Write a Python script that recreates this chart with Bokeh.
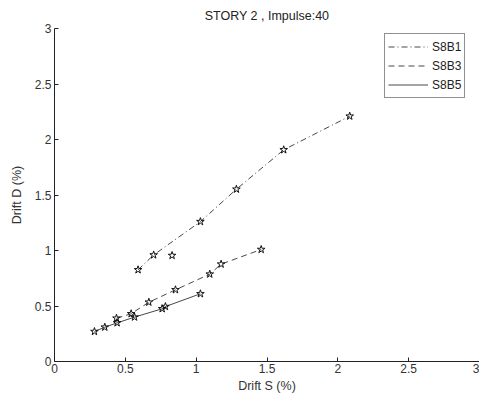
from bokeh.plotting import figure
from bokeh.models import Range1d, FixedTicker, Legend, LegendItem
from bokeh.embed import file_html
from bokeh.resources import INLINE

# data
s8b1_x = [0.59, 0.70, 0.83, 1.03, 1.284, 1.618, 2.084]
s8b1_y = [0.826, 0.96, 0.955, 1.26, 1.552, 1.907, 2.21]
s8b1_line_x = [0.59, 0.70, 1.03, 1.284, 1.618, 2.084]
s8b1_line_y = [0.826, 0.96, 1.26, 1.552, 1.907, 2.21]

s8b3_x = [0.4375, 0.541, 0.666, 0.854, 1.096, 1.176, 1.459]
s8b3_y = [0.39, 0.43, 0.534, 0.646, 0.787, 0.877, 1.009]

s8b5_x = [0.282, 0.355, 0.442, 0.565, 0.76, 0.783, 1.03]
s8b5_y = [0.27, 0.309, 0.348, 0.40, 0.475, 0.495, 0.61]

ticks = [0, 0.5, 1, 1.5, 2, 2.5, 3]
tick_labels = ["0", "0.5", "1", "1.5", "2", "2.5", "3"]

FONT = "Liberation Sans"

p = figure(width=479, height=398, output_backend="svg", toolbar_location=None,
           x_range=Range1d(0, 3), y_range=Range1d(0, 3),
           min_border_left=54, min_border_right=0, min_border_top=28, min_border_bottom=37,
           title="STORY 2 , Impulse:40")
p.outline_line_color = None
p.grid.visible = False
p.background_fill_color = "white"
p.border_fill_color = "white"

p.title.align = "center"
p.title.text_font = FONT
p.title.text_font_size = "12.5px"
p.title.text_font_style = "normal"
p.title.text_color = "#222222"
p.title.standoff = 12

for ax in (p.xaxis[0], p.yaxis[0]):
    ax.ticker = FixedTicker(ticks=ticks)
    ax.major_label_overrides = {t: l for t, l in zip(ticks, tick_labels)}
    ax.major_tick_in = 4
    ax.major_tick_out = 0
    ax.minor_tick_line_color = None
    ax.axis_line_color = "#222222"
    ax.major_tick_line_color = "#222222"
    ax.major_label_text_font = FONT
    ax.major_label_text_font_size = "12px"
    ax.major_label_text_color = "#333333"
    ax.axis_label_text_font = FONT
    ax.axis_label_text_font_size = "12.5px"
    ax.axis_label_text_font_style = "normal"
    ax.axis_label_text_color = "#333333"

p.xaxis.axis_label = "Drift S (%)"
p.yaxis.axis_label = "Drift D (%)"
p.xaxis.major_label_standoff = 2
p.xaxis.axis_label_standoff = 3
p.yaxis.major_label_standoff = 3
p.yaxis.axis_label_standoff = 8

r1 = p.line(s8b1_line_x, s8b1_line_y, line_color="#333333", line_width=0.9, line_dash="6 3 1 3")
r3 = p.line(s8b3_x, s8b3_y, line_color="#333333", line_width=0.9, line_dash="6 4")
r5 = p.line(s8b5_x, s8b5_y, line_color="#333333", line_width=0.9)

for xs, ys in ((s8b1_x, s8b1_y), (s8b3_x, s8b3_y), (s8b5_x, s8b5_y)):
    p.scatter(xs, ys, marker="star", size=8, fill_color=None, line_color="#111111", line_width=1)

legend = Legend(items=[LegendItem(label="S8B1", renderers=[r1]),
                       LegendItem(label="S8B3", renderers=[r3]),
                       LegendItem(label="S8B5", renderers=[r5])],
                location=(330, 263))
legend.margin = 0
legend.padding = 3
legend.spacing = 0
legend.label_text_font = FONT
legend.label_text_font_size = "12px"
legend.label_text_color = "#222222"
legend.label_height = 19
legend.glyph_height = 19
legend.glyph_width = 40
legend.label_standoff = 4
legend.border_line_color = "#222222"
legend.border_line_width = 1
legend.background_fill_alpha = 1
p.add_layout(legend)

open("out.html", "w").write(file_html(p, INLINE))
